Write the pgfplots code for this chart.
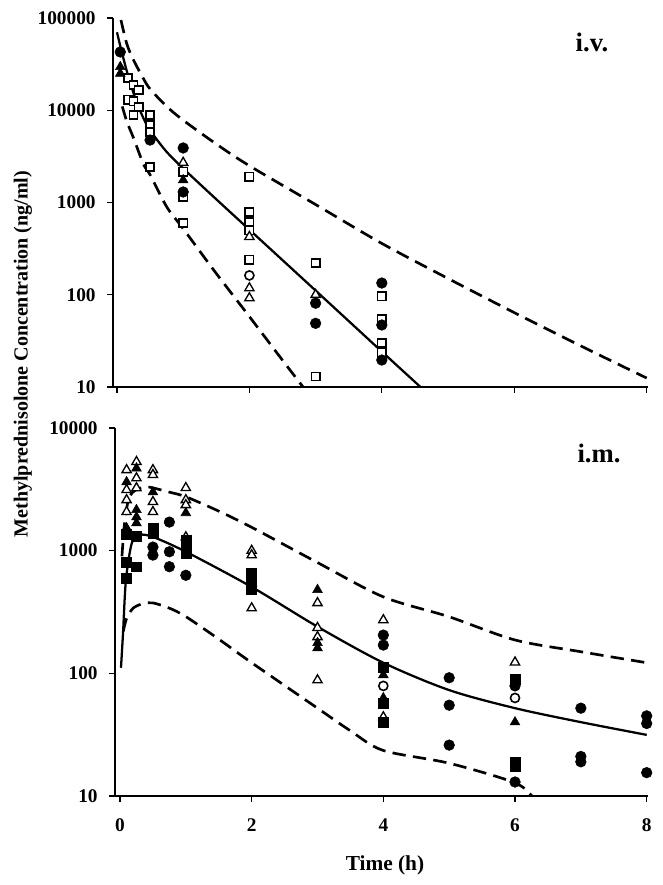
\documentclass[border=0pt]{standalone}
\usepackage{fontspec}
\setmainfont{Liberation Serif}
\usepackage{pgfplots}
\pgfplotsset{compat=1.18}
\pgfplotsset{
 fc/.style={only marks, mark=*, mark size=4.0pt, black, mark options={fill=black}},
 oc/.style={only marks, mark=*, mark size=3.4pt, black, mark options={fill=white, line width=1.2pt}},
 fs/.style={only marks, mark=square*, mark size=3.7pt, black, mark options={fill=black}},
 os/.style={only marks, mark=square*, mark size=3.1pt, black, mark options={fill=white, line width=1.2pt}},
 ft/.style={only marks, mark=triangle*, mark size=4.2pt, black, mark options={fill=black}},
 ot/.style={only marks, mark=triangle*, mark size=4.0pt, black, mark options={fill=white, line width=1.0pt}},
 mean/.style={black, line width=1.7pt, no marks, smooth},
 band/.style={black, line width=2.0pt, no marks, dash pattern=on 10pt off 5.5pt, smooth},
}
\begin{document}
\begin{tikzpicture}
\useasboundingbox (0,0) rectangle (497.25pt,663.75pt);
% ---------------- i.v. ----------------
\begin{axis}[at={(84.75pt,373.5pt)}, anchor=south west,
  scale only axis,
  width=401.25pt, height=276.75pt,
  ymode=log,
  xmin=-0.06, xmax=8.02, ymin=10, ymax=100000,
  axis x line*=bottom, axis y line*=left,
  axis line style={line width=1.7pt},
  log ticks with fixed point,
  tick label style={font=\bfseries\fontsize{14.5}{16}\selectfont},
  yticklabel style={xshift=-5pt},
  tick align=outside,
  major tick length=4.5pt,
  tick style={line width=0.9pt, black},
  yminorticks=false,
  xtick={0,2,4,6,8},
  xticklabels={},
  clip=true,
  /pgf/number format/1000 sep={},
  /pgf/number format/assume math mode=true]
\addplot[band] coordinates {(0.06,95000) (0.15,52000) (0.25,35000) (0.4,22000) (0.5,17000) (0.75,11000) (1,7800) (1.5,4300) (2,2500) (3,950) (4,360) (5,150) (6,64) (7,28) (8,12.5)};
\addplot[band] coordinates {(0.08,11000) (0.15,7500) (0.25,5000) (0.4,2600) (0.5,2000) (0.75,900) (1,520) (1.5,170) (2,58) (2.5,19.5) (2.81,10) (3,6.6)};
\addplot[mean] coordinates {(0,70000) (0.05,49600) (0.1,35800) (0.15,26300) (0.2,19800) (0.3,12100) (0.4,8190) (0.5,6050) (0.75,3540) (1,2340) (1.5,1083) (2,507) (3,111) (4,24.2) (4.6,9.75) (4.7,8.3)};
\addplot[os] coordinates {(0.167,22400) (0.167,13000) (0.25,18800) (0.25,12500) (0.25,8900) (0.33,16600) (0.33,10800) (0.5,8900) (0.5,6900) (0.5,5800) (0.5,2430) (1,2150) (1,1150) (1,600) (2,1900) (2,790) (2,615) (2,500) (2,240) (3,220) (3,13) (4,96) (4,54) (4,30) (4,23.5)};
\addplot[ot] coordinates {(1,2700) (2,425) (2,118) (2,92) (3,100)};
\addplot[oc] coordinates {(2,162)};
\addplot[ft] coordinates {(0.05,29500) (0.05,25000) (1,1750)};
\addplot[fc] coordinates {(0.05,42800) (0.5,4750) (1,3900) (1,1300) (3,81) (3,49) (4,134) (4,47) (4,19.6)};
\end{axis}
% ---------------- i.m. ----------------
\begin{axis}[at={(86.25pt,66.75pt)}, anchor=south west,
  scale only axis,
  width=399.75pt, height=276pt,
  ymode=log,
  xmin=-0.076, xmax=8.02, ymin=10, ymax=10000,
  axis x line*=bottom, axis y line*=left,
  axis line style={line width=1.7pt},
  log ticks with fixed point,
  tick label style={font=\bfseries\fontsize{14.5}{16}\selectfont},
  yticklabel style={xshift=-5pt},
  xticklabel style={yshift=-9pt},
  tick align=outside,
  major tick length=4.5pt,
  tick style={line width=0.9pt, black},
  yminorticks=false,
  xtick={0,2,4,6,8},
  clip=true,
  /pgf/number format/1000 sep={},
  /pgf/number format/assume math mode=true]
\addplot[band] coordinates {(0.03,900) (0.06,1500) (0.1,2200) (0.15,2800) (0.25,3150) (0.4,3300) (0.5,3250) (0.75,3000) (1,2750) (1.5,2100) (2,1550) (3,800) (4,420) (5,289) (6,187) (7,150) (8,122)};
\addplot[band] coordinates {(0.05,220) (0.1,280) (0.2,340) (0.35,370) (0.5,375) (0.75,340) (1,290) (1.5,190) (2,122) (3,52) (3.5,34) (4,23.5) (5,18.5) (6,12.8) (6.3,9.5) (6.5,8)};
\addplot[mean] coordinates {(0.015,111) (0.046,213) (0.09,575) (0.18,1156) (0.3,1343) (0.5,1294) (1,980) (2,506) (3,240) (4,122) (5,73) (6,52) (7,40) (8,31.5)};
\addplot[ot] coordinates {(0.1,4550) (0.1,3130) (0.1,2590) (0.1,2070) (0.25,5300) (0.25,3900) (0.25,3240) (0.5,4550) (0.5,4150) (0.5,2500) (0.5,2070) (1,3250) (1,2590) (1,2360) (1,1290) (2,1000) (2,920) (2,545) (2,340) (3,375) (3,235) (3,198) (3,88) (4,272) (4,44) (6,123)};
\addplot[ft] coordinates {(0.1,3630) (0.1,1530) (0.25,4700) (0.25,2150) (0.25,1880) (0.25,1680) (0.5,3000) (1,2030) (3,480) (3,177) (3,161) (4,97) (4,63) (6,40)};
\addplot[fs] coordinates {(0.1,1350) (0.1,810) (0.1,600) (0.25,1300) (0.25,740) (0.5,1530) (0.5,1390) (1,1220) (1,1000) (1,960) (2,660) (2,575) (2,480) (4,112) (4,57) (4,40) (6,90) (6,19) (6,17.4)};
\addplot[fc] coordinates {(0.5,1070) (0.5,920) (0.75,1710) (0.75,980) (0.75,740) (1,630) (4,205) (4,170) (5,92) (5,55) (5,26) (6,79) (6,13) (7,52) (7,21) (7,19) (8,45) (8,39) (8,15.5)};
\addplot[oc] coordinates {(4,79) (6,63)};
\end{axis}
\node[rotate=90, font=\bfseries\fontsize{15}{18}\selectfont] at (17.25pt,398.25pt) {Methylprednisolone Concentration (ng/ml)};
\node[font=\bfseries\fontsize{16}{19}\selectfont] at (288.75pt,15pt) {Time (h)};
\node[font=\bfseries\fontsize{20}{24}\selectfont] at (444pt,632.25pt) {i.v.};
\node[font=\bfseries\fontsize{20}{24}\selectfont] at (449.25pt,324pt) {i.m.};
\end{tikzpicture}
\end{document}
